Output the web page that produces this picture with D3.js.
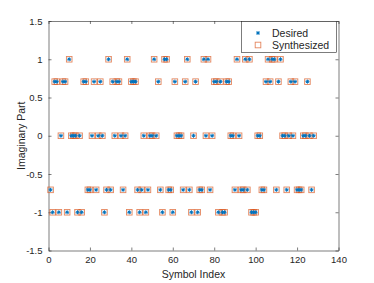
<!DOCTYPE html>
<html>
<head>
<meta charset="utf-8">
<script src="https://cdn.jsdelivr.net/npm/d3@7"></script>
<style>
  body { margin: 0; background: #fff; }
  svg text { font-family: "Liberation Sans", Arial, sans-serif; fill: #262626; }
</style>
</head>
<body>
<div id="chart"></div>
<script>
// imaginary part of each symbol, index 1..128
const desired = [
  -0.7071, -1, 0.7071, 0.7071, -1, 0, 0.7071, 0.7071, -1, 1,
  0, 0, 0, -1, 0, -1, 0.7071, 0.7071, -0.7071, -0.7071,
  0, 0.7071, -0.7071, 0, 0.7071, 0, -1, -0.7071, 1, -0.7071,
  0.7071, 0, 0.7071, 0.7071, 0, -0.7071, 0, 1, -1, 0.7071,
  0.7071, 0.7071, -0.7071, -1, -0.7071, 0, -1, -0.7071, 0, 0,
  1, 0, 0.7071, -0.7071, -1, 1, 1, -0.7071, -0.7071, -1,
  0.7071, 0, 0, 0, -0.7071, 0.7071, 1, -0.7071, -1, 0,
  0.7071, -1, -0.7071, -0.7071, 1, 0, 1, -0.7071, 0, 0.7071,
  0.7071, -1, 0.7071, -1, -1, 0.7071, 0.7071, 0, 0, -0.7071,
  1, 0, -0.7071, -0.7071, 1, -0.7071, 1, -1, -1, -1,
  0, 0, -0.7071, -0.7071, 0.7071, 1, 0.7071, 1, 1, -0.7071,
  0.7071, 1, 0, 0, -0.7071, 0, 0.7071, 0, 0.7071, -0.7071,
  -0.7071, -0.7071, 0, 0, 0.7071, 0, -0.7071, 0
]
// synthesized symbols land exactly on the desired ones
const synthesized = [
  -0.7071, -1, 0.7071, 0.7071, -1, 0, 0.7071, 0.7071, -1, 1,
  0, 0, 0, -1, 0, -1, 0.7071, 0.7071, -0.7071, -0.7071,
  0, 0.7071, -0.7071, 0, 0.7071, 0, -1, -0.7071, 1, -0.7071,
  0.7071, 0, 0.7071, 0.7071, 0, -0.7071, 0, 1, -1, 0.7071,
  0.7071, 0.7071, -0.7071, -1, -0.7071, 0, -1, -0.7071, 0, 0,
  1, 0, 0.7071, -0.7071, -1, 1, 1, -0.7071, -0.7071, -1,
  0.7071, 0, 0, 0, -0.7071, 0.7071, 1, -0.7071, -1, 0,
  0.7071, -1, -0.7071, -0.7071, 1, 0, 1, -0.7071, 0, 0.7071,
  0.7071, -1, 0.7071, -1, -1, 0.7071, 0.7071, 0, 0, -0.7071,
  1, 0, -0.7071, -0.7071, 1, -0.7071, 1, -1, -1, -1,
  0, 0, -0.7071, -0.7071, 0.7071, 1, 0.7071, 1, 1, -0.7071,
  0.7071, 1, 0, 0, -0.7071, 0, 0.7071, 0, 0.7071, -0.7071,
  -0.7071, -0.7071, 0, 0, 0.7071, 0, -0.7071, 0
]
const xTicks = [0, 20, 40, 60, 80, 100, 120, 140]
const yTicks = [-1.5, -1, -0.5, 0, 0.5, 1, 1.5]
const seriesNames = ["Desired", "Synthesized"]

const width = 374
const height = 283
const margin = {left: 48.5, right: 35.5, top: 21, bottom: 32.5}
const blue = "#0072BD"
const orange = "#D95319"

let svg = d3.select("#chart")
            .append("svg")
            .attr("width", width)
            .attr("height", height)

let xScale = d3.scaleLinear()
               .domain([0, 140])
               .range([margin.left, width - margin.right])
let yScale = d3.scaleLinear()
               .domain([-1.5, 1.5])
               .range([height - margin.bottom, margin.top])

//axes, MATLAB style: box on, ticks pointing in
let xAxis = d3.axisBottom(xScale).tickValues(xTicks).tickSize(-3).tickPadding(6).tickSizeOuter(0)
let xAxisTop = d3.axisTop(xScale).tickValues(xTicks).tickSize(-3).tickFormat("").tickSizeOuter(0)
let yAxis = d3.axisLeft(yScale).tickValues(yTicks).tickSize(-3).tickPadding(6).tickSizeOuter(0)
  .tickFormat(d => d3.format("")(d).replace("\u2212", "-"))
let yAxisRight = d3.axisRight(yScale).tickValues(yTicks).tickSize(-3).tickFormat("").tickSizeOuter(0)

function styleAxis(g) {
  g.select(".domain").attr("stroke", "#262626").attr("stroke-width", 0.6)
  g.selectAll(".tick line").attr("stroke", "#262626").attr("stroke-width", 0.6)
  g.selectAll(".tick text").style("font-size", "9.5px").attr("fill", "#262626")
}

svg.append("g")
   .attr("transform", "translate(0," + (height - margin.bottom) + ")")
   .call(xAxis).call(styleAxis)
svg.append("g")
   .attr("transform", "translate(0," + margin.top + ")")
   .call(xAxisTop).call(styleAxis)
svg.append("g")
   .attr("transform", "translate(" + margin.left + ",0)")
   .call(yAxis).call(styleAxis)
svg.append("g")
   .attr("transform", "translate(" + (width - margin.right) + ",0)")
   .call(yAxisRight).call(styleAxis)

svg.selectAll(".domain").attr("fill", "none")

//axis labels
svg.append("text")
   .attr("x", (xScale(0) + xScale(140)) / 2)
   .attr("y", height - 5)
   .attr("text-anchor", "middle")
   .style("font-size", "10.5px")
   .text("Symbol Index")
svg.append("text")
   .attr("transform", "rotate(-90)")
   .attr("x", -(yScale(-1.5) + yScale(1.5)) / 2)
   .attr("y", 25)
   .attr("text-anchor", "middle")
   .style("font-size", "10.5px")
   .text("Imaginary Part")

//asterisk marker path
function asterisk(r) {
  let d = ""
  for (let a = 0; a < 4; a++) {
    let ang = a * Math.PI / 4
    let dx = r * Math.cos(ang), dy = r * Math.sin(ang)
    d += "M" + (-dx) + "," + (-dy) + "L" + dx + "," + dy
  }
  return d
}

let sq = 5.6
svg.append("g").selectAll("rect")
   .data(synthesized)
   .enter().append("rect")
   .attr("x", (d, i) => xScale(i + 1) - sq / 2)
   .attr("y", d => yScale(d) - sq / 2)
   .attr("width", sq)
   .attr("height", sq)
   .attr("fill", "none")
   .attr("stroke", orange)
   .attr("stroke-opacity", 0.7)
   .attr("stroke-width", 0.9)

svg.append("g").selectAll("path")
   .data(desired)
   .enter().append("path")
   .attr("transform", (d, i) => "translate(" + xScale(i + 1) + "," + yScale(d) + ")")
   .attr("d", asterisk(2))
   .attr("stroke", blue)
   .attr("stroke-width", 1)

//legend
let lg = svg.append("g")
lg.append("rect")
  .attr("x", 241.5)
  .attr("y", 21.5)
  .attr("width", 95)
  .attr("height", 31)
  .attr("fill", "#fff")
  .attr("stroke", "#262626")
  .attr("stroke-width", 0.6)
lg.append("path")
  .attr("transform", "translate(258,33)")
  .attr("d", asterisk(2))
  .attr("stroke", blue)
  .attr("stroke-width", 1)
lg.append("rect")
  .attr("x", 258 - sq / 2)
  .attr("y", 45 - sq / 2)
  .attr("width", sq)
  .attr("height", sq)
  .attr("fill", "none")
  .attr("stroke", orange)
  .attr("stroke-opacity", 0.7)
  .attr("stroke-width", 0.9)
lg.selectAll(".lt")
  .data(seriesNames)
  .enter().append("text")
  .attr("class", "lt")
  .attr("x", 272)
  .attr("y", (d, i) => 36.5 + i * 12)
  .style("font-size", "10.5px")
  .text(d => d)
</script>
</body>
</html>
